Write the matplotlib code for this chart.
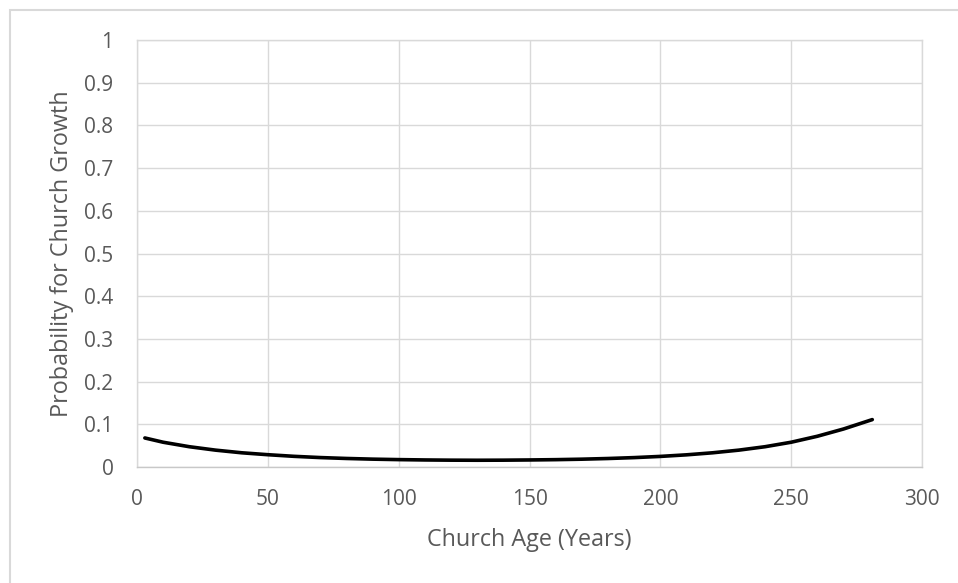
import matplotlib.pyplot as plt
from matplotlib.patches import Rectangle

# church age (years) vs predicted probability of growth
age = [3, 10, 20, 30, 40, 50, 60, 70, 80, 90, 100, 110, 120, 130, 140, 150,
       160, 170, 180, 190, 200, 210, 220, 230, 240, 250, 260, 270, 281]
prob = [0.068, 0.058, 0.0475, 0.0395, 0.0333, 0.0288, 0.0250, 0.0221, 0.0200,
        0.0184, 0.0173, 0.0165, 0.0160, 0.0158, 0.0160, 0.0165, 0.0172, 0.0183,
        0.0199, 0.0220, 0.0248, 0.0285, 0.0333, 0.0395, 0.0475, 0.0580, 0.0720,
        0.0890, 0.111]

x_ticks = [0, 50, 100, 150, 200, 250, 300]
y_ticks = [0, 0.1, 0.2, 0.3, 0.4, 0.5, 0.6, 0.7, 0.8, 0.9, 1]
y_tick_labels = ['0', '0.1', '0.2', '0.3', '0.4', '0.5', '0.6', '0.7', '0.8', '0.9', '1']

W, H = 958, 583
grid_col = '#d9d9d9'
text_col = '#595959'
plt.rcParams['font.family'] = ['Open Sans', 'DejaVu Sans']

fig = plt.figure(figsize=(W / 100, H / 100), dpi=100)
fig.patches.append(Rectangle((10 / W, -0.1), 2, 1 - 10 / H + 0.1, transform=fig.transFigure,
                             fill=False, edgecolor=grid_col, linewidth=1.5))

ax = fig.add_axes([137 / W, 1 - 467 / H, 785 / W, 427 / H])
ax.plot(age, prob, color='black', linewidth=2.6, solid_capstyle='round', zorder=3)

ax.set_xlim(0, 300)
ax.set_ylim(0, 1)
ax.set_xticks(x_ticks)
ax.set_yticks(y_ticks)
ax.set_yticklabels(y_tick_labels)
ax.grid(True, color=grid_col, linewidth=1.0)
ax.set_axisbelow(True)
for s in ax.spines.values():
    s.set_color(grid_col)
    s.set_linewidth(1.0)
ax.spines['bottom'].set_color('#c8c8c8')
ax.tick_params(axis='both', length=0, labelsize=15, labelcolor=text_col)
ax.tick_params(axis='y', pad=17)
ax.tick_params(axis='x', pad=16)

ax.set_xlabel('Church Age (Years)', fontsize=16.8, color=text_col)
ax.set_ylabel('Probability for Church Growth', fontsize=16.8, color=text_col)
ax.xaxis.set_label_coords(0.5, (467 - 540) / 427)
ax.yaxis.set_label_coords((62 - 137) / 785, 0.5)
ax.xaxis.label.set_va('center')
ax.yaxis.label.set_va('center')

fig.savefig('out.png', dpi=100)
